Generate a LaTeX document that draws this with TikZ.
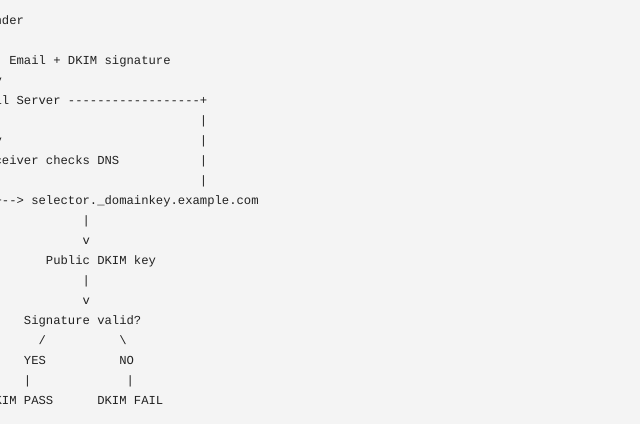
\documentclass[tikz,border=0pt]{standalone}
\usepackage{fontspec}
\setmonofont{Liberation Mono}
\definecolor{bg}{HTML}{F4F4F4}
\definecolor{ink}{HTML}{222222}
\newcommand{\cw}{7.33}
\newcommand{\xo}{-20}
\tikzset{
  txt/.style={anchor=base west, inner sep=0pt, outer sep=0pt, text=ink,
    font=\ttfamily\fontsize{12.22pt}{14pt}\selectfont},
}
\newcommand{\at}[2]{({\xo+#1*\cw},{#2+4})}
\begin{document}
\begin{tikzpicture}[x=1pt,y=-1pt]
\useasboundingbox (0,0) rectangle (640,424);
\fill[bg] (0,0) rectangle (640,424);
\clip (0,0) rectangle (640,424);
\node[txt] (sender) at \at{0}{20} {Sender};
\node[txt] (b1) at \at{2}{40} {|};
\node[txt] (b2) at \at{2}{60} {|};
\node[txt] (email) at \at{4}{60} {Email + DKIM signature};
\node[txt] (v1) at \at{2}{80} {v};
\node[txt] (mail) at \at{0}{100} {Mail Server ------------------+};
\node[txt] (b3) at \at{2}{120} {|};
\node[txt] (r1) at \at{30}{120} {|};
\node[txt] (v2) at \at{2}{140} {v};
\node[txt] (r2) at \at{30}{140} {|};
\node[txt] (recv) at \at{0}{160} {Receiver checks DNS};
\node[txt] (r3) at \at{30}{160} {|};
\node[txt] (b4) at \at{2}{180} {|};
\node[txt] (r4) at \at{30}{180} {|};
\node[txt] (sel) at \at{2}{200} {+--> selector.\_domainkey.example.com};
\node[txt] (b5) at \at{14}{220} {|};
\node[txt] (v3) at \at{14}{240} {v};
\node[txt] (key) at \at{9}{260} {Public DKIM key};
\node[txt] (b6) at \at{14}{280} {|};
\node[txt] (v4) at \at{14}{300} {v};
\node[txt] (valid) at \at{6}{320} {Signature valid?};
\node[txt] (sl) at \at{8}{340} {/};
\node[txt] (bs) at \at{19}{340} {\textbackslash};
\node[txt] (yes) at \at{6}{360} {YES};
\node[txt] (no) at \at{19}{360} {NO};
\node[txt] (b7) at \at{6}{380} {|};
\node[txt] (b8) at \at{20}{380} {|};
\node[txt] (pass) at \at{1}{400} {DKIM PASS};
\node[txt] (fail) at \at{16}{400} {DKIM FAIL};
\end{tikzpicture}
\end{document}
